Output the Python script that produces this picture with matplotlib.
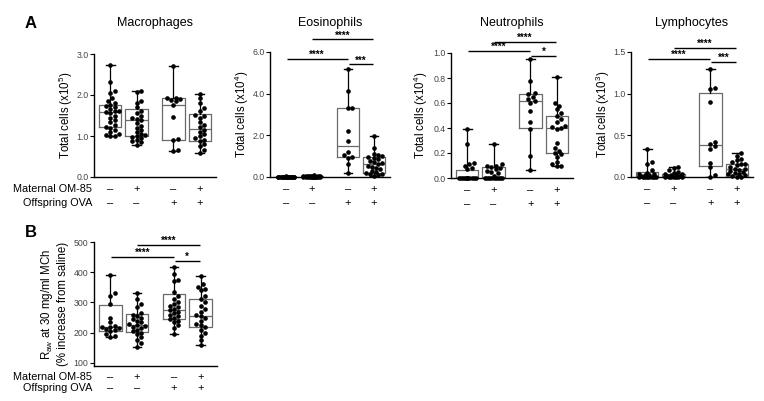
import numpy as np
import matplotlib
matplotlib.use('Agg')
import matplotlib.pyplot as plt

plt.rcParams['font.family'] = ['Liberation Sans', 'DejaVu Sans']
plt.rcParams['mathtext.default'] = 'regular'

W, H = 764, 401

# group layout and row labels
xpos = [1, 2, 3.4, 4.4]
maternal = ['–', '+', '–', '+']
offspring = ['–', '–', '+', '+']

# Macrophages (x10^5)
mac_g1 = [2.72, 2.32, 2.09, 2.05, 1.92, 1.85, 1.8, 1.76, 1.74, 1.7, 1.66, 1.62, 1.6, 1.58,
          1.55, 1.5, 1.45, 1.38, 1.33, 1.28, 1.22, 1.2, 1.15, 1.1, 1.05, 1.02, 1.0, 0.99]
mac_g2 = [2.09, 2.07, 1.85, 1.8, 1.7, 1.62, 1.55, 1.5, 1.45, 1.42, 1.38, 1.32, 1.25,
          1.2, 1.15, 1.1, 1.05, 1.02, 1.0, 0.98, 0.95, 0.9, 0.87, 0.85, 0.79]
mac_g3 = [2.71, 1.93, 1.92, 1.9, 1.88, 1.85, 1.76, 1.46, 0.92, 0.9, 0.65, 0.63]
mac_g4 = [2.02, 1.92, 1.8, 1.68, 1.6, 1.52, 1.5, 1.45, 1.35, 1.28, 1.22, 1.15, 1.1,
          1.05, 1.0, 0.95, 0.9, 0.88, 0.8, 0.75, 0.65, 0.59]
# box stats: min, q1, median, q3, max
mac_box = [[0.99, 1.21, 1.585, 1.76, 2.72], [0.79, 1.01, 1.38, 1.65, 2.09],
           [0.63, 0.91, 1.76, 1.93, 2.71], [0.59, 0.87, 1.16, 1.54, 2.02]]

# Eosinophils (x10^4)
eos_g1 = [0.03, 0.02, 0.02, 0.02, 0.01, 0.01, 0.01, 0.01, 0.01, 0.01,
          0.0, 0.0, 0.0, 0.0, 0.0, 0.0, 0.0, 0.0]
eos_g2 = [0.08, 0.07, 0.06, 0.05, 0.04, 0.04, 0.03, 0.03, 0.02, 0.02,
          0.02, 0.01, 0.01, 0.01, 0.0, 0.0, 0.0, 0.0, 0.0, 0.0]
eos_g3 = [5.2, 4.11, 3.32, 3.3, 2.2, 1.74, 1.2, 1.05, 0.95, 0.9, 0.6, 0.18]
eos_g4 = [1.97, 1.4, 1.1, 1.05, 1.0, 0.95, 0.9, 0.85, 0.78, 0.7, 0.65, 0.62, 0.55,
          0.5, 0.45, 0.38, 0.3, 0.22, 0.18, 0.15, 0.12, 0.08, 0.05]
eos_box = [[0.0, 0.0, 0.01, 0.02, 0.03], [0.0, 0.0, 0.02, 0.04, 0.08],
           [0.18, 0.94, 1.49, 3.3, 5.2], [0.05, 0.18, 0.62, 0.95, 1.97]]

# Neutrophils (x10^4)
neu_g1 = [0.39, 0.27, 0.12, 0.11, 0.1, 0.08, 0.07, 0.0, 0.0, 0.0, 0.0, 0.0,
          0.0, 0.0, 0.0, 0.0, 0.0, 0.0]
neu_g2 = [0.27, 0.11, 0.1, 0.1, 0.09, 0.08, 0.07, 0.06, 0.05, 0.04, 0.02,
          0.0, 0.0, 0.0, 0.0, 0.0, 0.0, 0.0, 0.0, 0.0]
neu_g3 = [0.95, 0.78, 0.68, 0.67, 0.65, 0.63, 0.62, 0.6, 0.54, 0.45, 0.39, 0.18, 0.065]
neu_g4 = [0.81, 0.6, 0.58, 0.55, 0.52, 0.5, 0.47, 0.45, 0.42, 0.41, 0.4, 0.39, 0.28,
          0.24, 0.22, 0.2, 0.19, 0.17, 0.13, 0.11, 0.1, 0.096]
neu_box = [[0.0, 0.0, 0.0, 0.065, 0.39], [0.0, 0.0, 0.005, 0.085, 0.27],
           [0.065, 0.40, 0.616, 0.67, 0.95], [0.096, 0.2, 0.40, 0.50, 0.81]]

# Lymphocytes (x10^3)
lym_g1 = [0.34, 0.18, 0.15, 0.08, 0.05, 0.04, 0.03, 0.02, 0.02, 0.01, 0.01,
          0.0, 0.0, 0.0, 0.0, 0.0, 0.0, 0.0, 0.0]
lym_g2 = [0.12, 0.11, 0.08, 0.06, 0.05, 0.03, 0.03, 0.02, 0.02, 0.01, 0.01, 0.01,
          0.0, 0.0, 0.0, 0.0, 0.0, 0.0, 0.0]
lym_g3 = [1.29, 1.07, 1.05, 0.9, 0.42, 0.39, 0.37, 0.34, 0.17, 0.12, 0.02, 0.0]
lym_g4 = [0.29, 0.25, 0.22, 0.2, 0.18, 0.16, 0.15, 0.14, 0.12, 0.1, 0.09, 0.08, 0.07,
          0.06, 0.05, 0.04, 0.03, 0.02, 0.01, 0.0, 0.0]
lym_box = [[0.0, 0.0, 0.01, 0.056, 0.34], [0.0, 0.0, 0.01, 0.03, 0.12],
           [0.0, 0.13, 0.38, 1.01, 1.29], [0.0, 0.005, 0.09, 0.16, 0.29]]

# Raw at 30 mg/ml MCh (% increase from saline)
raw_g1 = [390, 330, 322, 295, 250, 235, 222, 220, 218, 215, 212, 210, 205, 195, 190, 186]
raw_g2 = [330, 310, 295, 285, 265, 260, 255, 250, 245, 240, 235, 228, 225, 222, 220,
          215, 210, 205, 200, 195, 185, 175, 165, 154]
raw_g3 = [418, 395, 375, 370, 335, 320, 310, 300, 295, 290, 285, 280, 275, 270, 265,
          260, 255, 250, 245, 240, 235, 225, 215, 196]
raw_g4 = [386, 360, 352, 345, 340, 320, 310, 300, 290, 280, 270, 260, 255, 250, 240,
          230, 225, 220, 210, 200, 190, 175, 160]
raw_box = [[186, 205, 219, 293, 390], [154, 202, 226, 263, 330],
           [196, 247, 274, 327, 418], [160, 218, 256, 313, 386]]

# significance bars: (from group, to group, y, label)
eos_sig = [(0, 2, 5.66, '****'), (1, 3, 6.6, '****'), (2, 3, 5.4, '***')]
neu_sig = [(0, 2, 1.02, '****'), (1, 3, 1.09, '****'), (2, 3, 0.98, '*')]
lym_sig = [(0, 2, 1.42, '****'), (1, 3, 1.545, '****'), (2, 3, 1.38, '***')]
raw_sig = [(0, 2, 450, '****'), (1, 3, 490, '****'), (2, 3, 438, '*')]

XLIM = (0.38, 5.02)


def swarm(ypx, d=4.2, maxw=10.0):
    # simple beeswarm in pixel space, squeezed into +-maxw
    order = np.argsort(ypx)
    cand = np.arange(0, maxw + 0.01, d / 2)
    cand = np.concatenate([[0], np.ravel(np.column_stack([cand[1:], -cand[1:]]))])
    px, py = [], []
    offs = np.zeros(len(ypx))
    for i in order:
        best, bestc = 0.0, -1
        for c in cand:
            if px:
                clr = np.min(np.hypot(np.array(px) - c, np.array(py) - ypx[i]))
            else:
                clr = 1e9
            if clr >= d * 0.95:
                best = c
                break
            if clr > bestc:
                best, bestc = c, clr
        offs[i] = best
        px.append(best)
        py.append(ypx[i])
    return offs


def panel(rect, groups, boxes, ylim, yticks, ylabel, sig, title=None,
          rows=False, row_off=(12, 26), lab_dx=27):
    l, r, t, b = rect
    ax = fig.add_axes([l / W, 1 - b / H, (r - l) / W, (b - t) / H])
    ax.set_xlim(*XLIM)
    ax.set_ylim(*ylim)
    ppx = (r - l) / (XLIM[1] - XLIM[0])
    ppy = (b - t) / (ylim[1] - ylim[0])

    stats = [dict(whislo=s[0], q1=s[1], med=s[2], q3=s[3], whishi=s[4], fliers=[])
             for s in boxes]
    ax.bxp(stats, positions=xpos, widths=0.85, capwidths=0.32, showfliers=False,
           boxprops=dict(color='#6a6a6a', lw=0.9),
           medianprops=dict(color='#6a6a6a', lw=0.9),
           whiskerprops=dict(color='black', lw=0.9),
           capprops=dict(color='black', lw=1.0), manage_ticks=False)
    for x, vals in zip(xpos, groups):
        vals = np.array(vals, dtype=float)
        offs = swarm(vals * ppy)
        ax.scatter(x + offs / ppx, vals, s=11, color='black', lw=0, zorder=3,
                   clip_on=False)

    for sp in ['top', 'right']:
        ax.spines[sp].set_visible(False)
    for sp in ['left', 'bottom']:
        ax.spines[sp].set_linewidth(1.0)
    ax.set_xticks([])
    ax.set_yticks(yticks[0])
    ax.set_yticklabels(yticks[1])
    ax.tick_params(axis='y', length=3, width=0.8, labelsize=6.3, labelcolor='#444',
                   pad=1)
    ax.set_ylabel(ylabel, fontsize=8.3, va='center')
    ax.yaxis.set_label_coords(-lab_dx / (r - l), 0.5)

    for x, m, o in zip(xpos, maternal, offspring):
        ax.annotate(m, xy=(x, 0), xycoords=('data', 'axes fraction'),
                    xytext=(0, -row_off[0]), textcoords='offset pixels',
                    ha='center', va='center', fontsize=8, annotation_clip=False)
        ax.annotate(o, xy=(x, 0), xycoords=('data', 'axes fraction'),
                    xytext=(0, -row_off[1]), textcoords='offset pixels',
                    ha='center', va='center', fontsize=8, annotation_clip=False)
    if rows:
        for txt, off in zip(['Maternal OM-85', 'Offspring OVA'], row_off):
            ax.annotate(txt, xy=(0, 0), xycoords='axes fraction',
                        xytext=(-2, -off), textcoords='offset pixels',
                        ha='right', va='center', fontsize=7.8,
                        annotation_clip=False)

    for i, j, y, txt in sig:
        x1, x2 = xpos[i] + 0.02, xpos[j] - 0.02
        ax.plot([x1, x2], [y, y], color='black', lw=1.0, clip_on=False,
                solid_capstyle='butt')
        ax.annotate(txt, xy=((x1 + x2) / 2, y), xytext=(0, -1),
                    textcoords='offset pixels', ha='center', va='bottom',
                    fontsize=7, fontweight='bold', annotation_clip=False)

    if title:
        fig.text((l + r) / 2 / W, 1 - 23 / H, title, ha='center', va='center',
                 fontsize=9)
    return ax


fig = plt.figure(figsize=(W / 100, H / 100), dpi=100)

panel((94, 216, 54, 177), [mac_g1, mac_g2, mac_g3, mac_g4], mac_box, (0, 3.0),
      ([0, 1, 2, 3], ['0.0', '1.0', '2.0', '3.0']),
      'Total cells (x10$^{5}$)', [], title='Macrophages', rows=True, lab_dx=28)
panel((270, 390, 52, 177), [eos_g1, eos_g2, eos_g3, eos_g4], eos_box, (0, 6.0),
      ([0, 2, 4, 6], ['0.0', '2.0', '4.0', '6.0']),
      'Total cells (x10$^{4}$)', eos_sig, title='Eosinophils', lab_dx=28)
panel((451, 573, 53, 178), [neu_g1, neu_g2, neu_g3, neu_g4], neu_box, (0, 1.0),
      ([0, 0.2, 0.4, 0.6, 0.8, 1.0], ['0.0', '0.2', '0.4', '0.6', '0.8', '1.0']),
      'Total cells (x10$^{4}$)', neu_sig, title='Neutrophils', lab_dx=30)
panel((631, 753, 52, 177), [lym_g1, lym_g2, lym_g3, lym_g4], lym_box, (0, 1.5),
      ([0, 0.5, 1.0, 1.5], ['0.0', '0.5', '1.0', '1.5']),
      'Total cells (x10$^{3}$)', lym_sig, title='Lymphocytes', lab_dx=28)
panel((94, 217, 242, 366), [raw_g1, raw_g2, raw_g3, raw_g4], raw_box, (90, 500),
      ([100, 200, 300, 400, 500], ['100', '200', '300', '400', '500']),
      'R$_{aw}$ at 30 mg/ml MCh\n(% increase from saline)', raw_sig,
      rows=True, row_off=(11, 22), lab_dx=40)

fig.text(31 / W, 1 - 23 / H, 'A', ha='center', va='center', fontsize=12,
         fontweight='bold')
fig.text(31 / W, 1 - 232 / H, 'B', ha='center', va='center', fontsize=12,
         fontweight='bold')

fig.savefig('out.png', dpi=100)
